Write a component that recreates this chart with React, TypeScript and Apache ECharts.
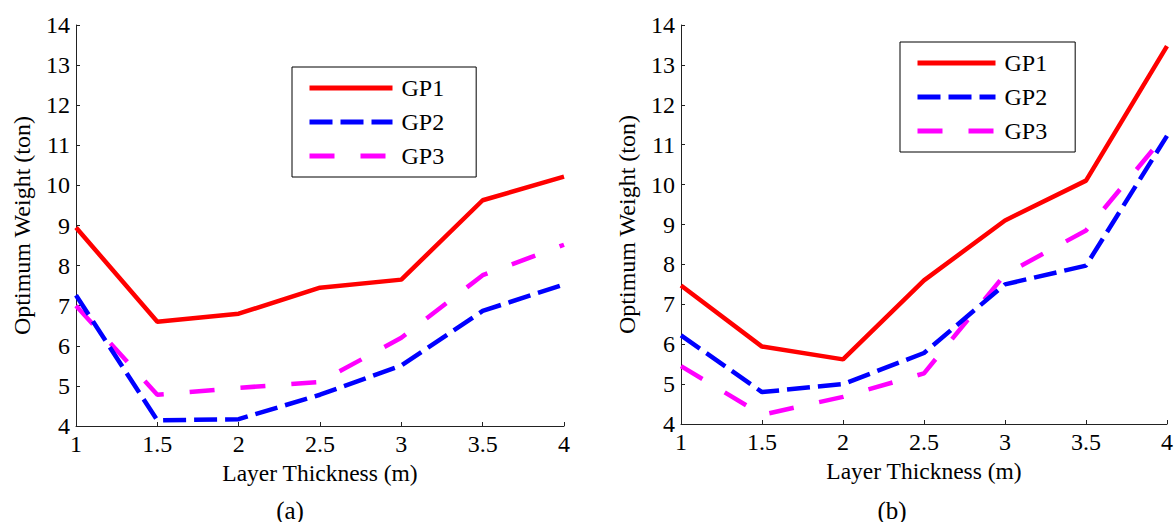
import React, { useEffect, useRef } from "react";
import * as echarts from "echarts";

const thickness = [1, 1.5, 2, 2.5, 3, 3.5, 4];
const seriesNames = ["GP1", "GP2", "GP3"];

const aGP1 = [8.95, 6.6, 6.8, 7.45, 7.65, 9.63, 10.22];
const aGP2 = [7.26, 4.14, 4.17, 4.78, 5.51, 6.87, 7.53];
const aGP3 = [7.0, 4.78, 4.95, 5.1, 6.2, 7.76, 8.52];

const bGP1 = [7.47, 5.94, 5.62, 7.6, 9.1, 10.1, 13.47];
const bGP2 = [6.22, 4.8, 5.0, 5.78, 7.5, 7.97, 11.22];
const bGP3 = [5.45, 4.23, 4.68, 5.27, 7.75, 8.85, 11.3];

const xAxisName = "Layer Thickness (m)";
const yAxisName = "Optimum Weight (ton)";
const panelLabels = ["(a)", "(b)"];

const FONT = "Liberation Serif, Times New Roman, serif";
const colors = ["#ff0000", "#0000ff", "#ff00ff"];
const dashes: any[] = ["solid", [23, 8], [25, 26]];

export default function App() {
  const ref = useRef<HTMLDivElement>(null);
  useEffect(() => {
    if (!ref.current) return;
    const chart = echarts.init(ref.current, undefined, { renderer: "svg" });
    const pair = (vals: number[]) => thickness.map((x, i) => [x, vals[i]]);
    const panels = [
      [aGP1, aGP2, aGP3],
      [bGP1, bGP2, bGP3],
    ];
    const txt = (size: number) => ({ fontFamily: FONT, fontSize: size, color: "#000", fontWeight: "normal" as const });
    const xAxisBase = (gridIndex: number) => ({
      type: "value",
      gridIndex,
      min: 1,
      max: 4,
      interval: 0.5,
      name: xAxisName,
      nameLocation: "middle",
      nameGap: 31,
      nameTextStyle: txt(23.5),
      axisLine: { show: true, onZero: false, lineStyle: { color: "#222", width: 1 } },
      axisTick: { show: true, inside: true, length: 4, lineStyle: { color: "#222" } },
      axisLabel: { ...txt(24), margin: 6 },
      splitLine: { show: false },
    });
    const yAxisBase = (gridIndex: number) => ({
      type: "value",
      gridIndex,
      min: 4,
      max: 14,
      interval: 1,
      name: yAxisName,
      nameLocation: "middle",
      nameGap: 42,
      nameRotate: 90,
      nameTextStyle: txt(24),
      axisLine: { show: true, lineStyle: { color: "#222", width: 1 } },
      axisTick: { show: true, inside: true, length: 4, lineStyle: { color: "#222" } },
      axisLabel: { ...txt(24), margin: 6 },
      splitLine: { show: false },
    });
    const series: any[] = [];
    panels.forEach((vals, p) => {
      vals.forEach((v, k) => {
        series.push({
          type: "line",
          name: seriesNames[k],
          xAxisIndex: p,
          yAxisIndex: p,
          data: pair(v),
          symbol: "none",
          showSymbol: false,
          lineStyle: { color: colors[k], width: 4.5, type: dashes[k] },
          itemStyle: { color: colors[k] },
          z: 10 - k,
        });
      });
    });
    const legendBase = {
      orient: "vertical",
      data: seriesNames,
      itemHeight: 20,
      itemGap: 10,
      backgroundColor: "#fff",
      borderColor: "#000",
      borderWidth: 1,
      borderRadius: 0,
      selectedMode: false,
      itemStyle: { opacity: 0 },
      lineStyle: { width: 5 },
      textStyle: { ...txt(24), padding: [0, 0, 0, 4] },
    };
    chart.setOption({
      animation: false,
      textStyle: { fontFamily: FONT },
      grid: [
        { left: 76, top: 25, width: 488, height: 401 },
        { left: 681, top: 25, width: 487, height: 399 },
      ],
      xAxis: [xAxisBase(0), xAxisBase(1)],
      yAxis: [yAxisBase(0), yAxisBase(1)],
      legend: [
        { ...legendBase, left: 292, top: 67, itemWidth: 83, padding: [9, 32, 9, 15] },
        { ...legendBase, left: 900, top: 42, itemWidth: 78, padding: [9, 28, 9, 15] },
      ],
      graphic: [
        {
          type: "text",
          x: 290,
          y: 510,
          style: { text: panelLabels[0], font: `25px ${FONT}`, textAlign: "center", textVerticalAlign: "middle", fill: "#000" },
        },
        {
          type: "text",
          x: 892,
          y: 510,
          style: { text: panelLabels[1], font: `25px ${FONT}`, textAlign: "center", textVerticalAlign: "middle", fill: "#000" },
        },
      ],
      series,
    });
    return () => chart.dispose();
  }, []);
  return (
    <div
      ref={ref}
      style={{ position: "fixed", left: 0, top: 0, width: 1176, height: 522, background: "#fff" }}
    />
  );
}
